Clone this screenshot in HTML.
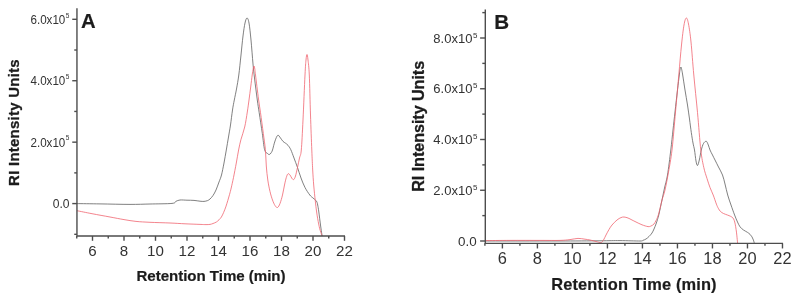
<!DOCTYPE html>
<html><head><meta charset="utf-8"><title>Chromatograms</title>
<style>html,body{margin:0;padding:0;background:#fff;}svg{display:block}</style>
</head><body>
<svg width="800" height="302" viewBox="0 0 800 302" font-family="'Liberation Sans', sans-serif">
<rect width="800" height="302" fill="#ffffff"/>
<g fill="none" stroke-width="0.78" stroke-linejoin="round">
<path d="M77.00,203.60C80.83,203.65 91.17,203.77 100.00,203.90C108.83,204.03 121.67,204.38 130.00,204.40C138.33,204.42 143.00,204.17 150.00,204.00C157.00,203.83 167.67,203.85 172.00,203.40C176.33,202.95 174.67,201.87 176.00,201.30C177.33,200.73 178.17,200.18 180.00,200.00C181.83,199.82 184.67,200.13 187.00,200.20C189.33,200.27 191.83,200.23 194.00,200.40C196.17,200.57 198.33,201.03 200.00,201.20C201.67,201.37 202.75,201.50 204.00,201.40C205.25,201.30 206.50,201.00 207.50,200.60C208.50,200.20 209.08,199.85 210.00,199.00C210.92,198.15 212.00,197.00 213.00,195.50C214.00,194.00 215.00,192.25 216.00,190.00C217.00,187.75 218.08,184.50 219.00,182.00C219.92,179.50 220.67,178.17 221.50,175.00C222.33,171.83 223.20,167.17 224.00,163.00C224.80,158.83 225.55,154.33 226.30,150.00C227.05,145.67 227.80,141.17 228.50,137.00C229.20,132.83 229.83,129.50 230.50,125.00C231.17,120.50 231.87,114.17 232.50,110.00C233.13,105.83 233.63,103.50 234.30,100.00C234.97,96.50 235.75,93.17 236.50,89.00C237.25,84.83 238.05,80.67 238.80,75.00C239.55,69.33 240.30,61.50 241.00,55.00C241.70,48.50 242.33,41.33 243.00,36.00C243.67,30.67 244.33,26.00 245.00,23.00C245.67,20.00 246.33,18.00 247.00,18.00C247.67,18.00 248.33,19.33 249.00,23.00C249.67,26.67 250.33,33.17 251.00,40.00C251.67,46.83 252.42,57.67 253.00,64.00C253.58,70.33 253.78,72.00 254.50,78.00C255.22,84.00 256.52,94.22 257.30,100.00C258.08,105.78 258.37,107.13 259.20,112.70C260.03,118.27 261.40,127.23 262.30,133.40C263.20,139.57 263.73,146.35 264.60,149.70C265.47,153.05 266.72,152.70 267.50,153.50C268.28,154.30 268.72,154.58 269.30,154.50C269.88,154.42 270.47,153.75 271.00,153.00C271.53,152.25 271.83,152.00 272.50,150.00C273.17,148.00 274.12,143.45 275.00,141.00C275.88,138.55 276.88,135.80 277.80,135.30C278.72,134.80 279.63,136.98 280.50,138.00C281.37,139.02 282.17,140.53 283.00,141.40C283.83,142.27 284.67,142.55 285.50,143.20C286.33,143.85 287.12,144.22 288.00,145.30C288.88,146.38 289.80,147.58 290.80,149.70C291.80,151.82 292.88,155.03 294.00,158.00C295.12,160.97 296.33,164.17 297.50,167.50C298.67,170.83 299.75,174.67 301.00,178.00C302.25,181.33 303.53,184.67 305.00,187.50C306.47,190.33 308.47,193.25 309.80,195.00C311.13,196.75 312.02,197.12 313.00,198.00C313.98,198.88 315.05,199.63 315.70,200.30C316.35,200.97 316.57,201.22 316.90,202.00C317.23,202.78 317.40,203.50 317.70,205.00C318.00,206.50 318.37,208.70 318.70,211.00C319.03,213.30 319.40,216.47 319.70,218.80C320.00,221.13 320.23,223.02 320.50,225.00C320.77,226.98 321.03,228.87 321.30,230.70C321.57,232.53 321.97,235.12 322.10,236.00" stroke="#5c5c5c"/>
<path d="M77.00,210.70C79.50,211.20 86.50,212.65 92.00,213.70C97.50,214.75 104.67,216.02 110.00,217.00C115.33,217.98 119.67,218.87 124.00,219.60C128.33,220.33 131.67,220.95 136.00,221.40C140.33,221.85 144.33,222.03 150.00,222.30C155.67,222.57 164.17,222.75 170.00,223.00C175.83,223.25 180.00,223.57 185.00,223.80C190.00,224.03 196.50,224.27 200.00,224.40C203.50,224.53 204.33,224.60 206.00,224.60C207.67,224.60 208.83,224.58 210.00,224.40C211.17,224.22 211.93,223.90 213.00,223.50C214.07,223.10 215.40,222.62 216.40,222.00C217.40,221.38 218.17,220.63 219.00,219.80C219.83,218.97 220.63,218.22 221.40,217.00C222.17,215.78 222.87,214.18 223.60,212.50C224.33,210.82 225.10,208.90 225.80,206.90C226.50,204.90 227.17,202.60 227.80,200.50C228.43,198.40 229.03,196.38 229.60,194.30C230.17,192.22 230.55,190.80 231.20,188.00C231.85,185.20 232.65,181.67 233.50,177.50C234.35,173.33 235.45,167.58 236.30,163.00C237.15,158.42 237.83,153.88 238.60,150.00C239.37,146.12 239.88,143.53 240.90,139.70C241.92,135.87 243.63,131.62 244.70,127.00C245.77,122.38 246.58,116.50 247.30,112.00C248.02,107.50 248.43,104.17 249.00,100.00C249.57,95.83 250.17,91.17 250.70,87.00C251.23,82.83 251.78,78.00 252.20,75.00C252.62,72.00 252.90,70.50 253.20,69.00C253.50,67.50 253.73,66.00 254.00,66.00C254.27,66.00 254.55,67.50 254.80,69.00C255.05,70.50 254.88,70.00 255.50,75.00C256.12,80.00 257.67,92.72 258.50,99.00C259.33,105.28 259.70,106.97 260.50,112.70C261.30,118.43 262.48,127.23 263.30,133.40C264.12,139.57 264.90,144.27 265.40,149.70C265.90,155.13 265.90,160.95 266.30,166.00C266.70,171.05 267.18,175.75 267.80,180.00C268.42,184.25 269.22,188.17 270.00,191.50C270.78,194.83 271.67,197.67 272.50,200.00C273.33,202.33 274.17,204.25 275.00,205.50C275.83,206.75 276.67,207.83 277.50,207.50C278.33,207.17 279.17,205.58 280.00,203.50C280.83,201.42 281.75,198.08 282.50,195.00C283.25,191.92 283.87,187.92 284.50,185.00C285.13,182.08 285.72,179.37 286.30,177.50C286.88,175.63 287.38,174.22 288.00,173.80C288.62,173.38 289.33,174.22 290.00,175.00C290.67,175.78 291.37,177.75 292.00,178.50C292.63,179.25 293.22,179.92 293.80,179.50C294.38,179.08 294.88,178.00 295.50,176.00C296.12,174.00 296.83,170.50 297.50,167.50C298.17,164.50 298.87,160.92 299.50,158.00C300.13,155.08 300.72,156.33 301.30,150.00C301.88,143.67 302.38,132.50 303.00,120.00C303.62,107.50 304.50,85.00 305.00,75.00C305.50,65.00 305.67,63.42 306.00,60.00C306.33,56.58 306.67,54.50 307.00,54.50C307.33,54.50 307.62,56.58 308.00,60.00C308.38,63.42 308.88,65.83 309.30,75.00C309.72,84.17 310.08,102.50 310.50,115.00C310.92,127.50 311.43,140.83 311.80,150.00C312.17,159.17 312.38,164.17 312.70,170.00C313.02,175.83 313.27,179.83 313.70,185.00C314.13,190.17 314.83,196.67 315.30,201.00C315.77,205.33 316.10,208.03 316.50,211.00C316.90,213.97 317.33,216.63 317.70,218.80C318.07,220.97 318.37,222.35 318.70,224.00C319.03,225.65 319.33,227.28 319.70,228.70C320.07,230.12 320.50,231.28 320.90,232.50C321.30,233.72 321.90,235.42 322.10,236.00" stroke="#f0606c"/>
<path d="M485.00,241.00C490.83,241.00 507.50,241.00 520.00,241.00C532.50,241.00 546.67,241.03 560.00,241.00C573.33,240.97 590.00,240.87 600.00,240.80C610.00,240.73 613.33,240.57 620.00,240.60C626.67,240.63 636.17,241.05 640.00,241.00C643.83,240.95 642.00,240.63 643.00,240.30C644.00,239.97 645.00,239.63 646.00,239.00C647.00,238.37 648.00,237.50 649.00,236.50C650.00,235.50 651.17,234.25 652.00,233.00C652.83,231.75 653.33,230.50 654.00,229.00C654.67,227.50 655.42,225.58 656.00,224.00C656.58,222.42 657.00,221.17 657.50,219.50C658.00,217.83 658.25,217.25 659.00,214.00C659.75,210.75 661.08,204.33 662.00,200.00C662.92,195.67 663.58,192.17 664.50,188.00C665.42,183.83 666.45,181.33 667.50,175.00C668.55,168.67 669.88,157.50 670.80,150.00C671.72,142.50 672.30,136.33 673.00,130.00C673.70,123.67 674.25,118.67 675.00,112.00C675.75,105.33 676.78,96.17 677.50,90.00C678.22,83.83 678.87,78.42 679.30,75.00C679.73,71.58 679.83,70.83 680.10,69.50C680.37,68.17 680.63,67.00 680.90,67.00C681.17,67.00 681.40,68.17 681.70,69.50C682.00,70.83 682.15,71.58 682.70,75.00C683.25,78.42 684.20,85.00 685.00,90.00C685.80,95.00 686.75,100.17 687.50,105.00C688.25,109.83 688.87,114.42 689.50,119.00C690.13,123.58 690.72,128.50 691.30,132.50C691.88,136.50 692.47,140.08 693.00,143.00C693.53,145.92 694.00,147.00 694.50,150.00C695.00,153.00 695.50,158.42 696.00,161.00C696.50,163.58 696.95,165.67 697.50,165.50C698.05,165.33 698.67,162.58 699.30,160.00C699.93,157.42 700.60,152.75 701.30,150.00C702.00,147.25 702.67,144.95 703.50,143.50C704.33,142.05 705.50,141.05 706.30,141.30C707.10,141.55 707.68,143.55 708.30,145.00C708.92,146.45 709.30,148.33 710.00,150.00C710.70,151.67 711.67,153.33 712.50,155.00C713.33,156.67 714.00,158.00 715.00,160.00C716.00,162.00 717.25,164.50 718.50,167.00C719.75,169.50 721.42,172.17 722.50,175.00C723.58,177.83 724.13,180.67 725.00,184.00C725.87,187.33 726.70,191.50 727.70,195.00C728.70,198.50 729.85,201.67 731.00,205.00C732.15,208.33 733.52,212.17 734.60,215.00C735.68,217.83 736.58,220.02 737.50,222.00C738.42,223.98 739.10,225.57 740.10,226.90C741.10,228.23 742.28,229.10 743.50,230.00C744.72,230.90 746.32,231.58 747.40,232.30C748.48,233.02 749.23,233.53 750.00,234.30C750.77,235.07 751.43,235.95 752.00,236.90C752.57,237.85 753.00,238.92 753.40,240.00C753.80,241.08 754.23,242.83 754.40,243.40" stroke="#5c5c5c"/>
<path d="M485.00,240.60C489.17,240.57 500.83,240.43 510.00,240.40C519.17,240.37 531.67,240.40 540.00,240.40C548.33,240.40 555.00,240.53 560.00,240.40C565.00,240.27 567.00,239.93 570.00,239.60C573.00,239.27 575.50,238.47 578.00,238.40C580.50,238.33 583.00,238.93 585.00,239.20C587.00,239.47 588.17,239.62 590.00,240.00C591.83,240.38 594.17,241.07 596.00,241.50C597.83,241.93 599.75,242.85 601.00,242.60C602.25,242.35 602.67,241.27 603.50,240.00C604.33,238.73 605.08,236.75 606.00,235.00C606.92,233.25 608.00,231.17 609.00,229.50C610.00,227.83 610.67,226.58 612.00,225.00C613.33,223.42 615.50,221.23 617.00,220.00C618.50,218.77 619.83,218.10 621.00,217.60C622.17,217.10 622.83,216.93 624.00,217.00C625.17,217.07 626.67,217.50 628.00,218.00C629.33,218.50 630.67,219.33 632.00,220.00C633.33,220.67 634.33,221.20 636.00,222.00C637.67,222.80 640.00,224.03 642.00,224.80C644.00,225.57 646.50,226.40 648.00,226.60C649.50,226.80 650.00,226.43 651.00,226.00C652.00,225.57 653.17,224.92 654.00,224.00C654.83,223.08 655.33,221.83 656.00,220.50C656.67,219.17 657.33,218.00 658.00,216.00C658.67,214.00 659.33,211.17 660.00,208.50C660.67,205.83 661.17,203.08 662.00,200.00C662.83,196.92 663.92,194.67 665.00,190.00C666.08,185.33 667.33,178.67 668.50,172.00C669.67,165.33 670.83,160.00 672.00,150.00C673.17,140.00 674.37,124.50 675.50,112.00C676.63,99.50 677.80,86.17 678.80,75.00C679.80,63.83 680.63,53.33 681.50,45.00C682.37,36.67 683.20,29.50 684.00,25.00C684.80,20.50 685.55,18.17 686.30,18.00C687.05,17.83 687.72,20.00 688.50,24.00C689.28,28.00 690.12,33.50 691.00,42.00C691.88,50.50 692.72,63.25 693.80,75.00C694.88,86.75 696.33,100.00 697.50,112.50C698.67,125.00 699.75,140.83 700.80,150.00C701.85,159.17 702.77,162.75 703.80,167.50C704.83,172.25 705.97,175.17 707.00,178.50C708.03,181.83 708.97,184.75 710.00,187.50C711.03,190.25 712.13,192.23 713.20,195.00C714.27,197.77 715.55,201.88 716.40,204.10C717.25,206.32 717.63,207.08 718.30,208.30C718.97,209.52 719.53,210.53 720.40,211.40C721.27,212.27 722.33,212.90 723.50,213.50C724.67,214.10 726.23,214.53 727.40,215.00C728.57,215.47 729.60,215.83 730.50,216.30C731.40,216.77 732.18,217.13 732.80,217.80C733.42,218.47 733.80,219.25 734.20,220.30C734.60,221.35 734.88,222.57 735.20,224.10C735.52,225.63 735.83,227.67 736.10,229.50C736.37,231.33 736.55,232.78 736.80,235.10C737.05,237.42 737.47,242.02 737.60,243.40" stroke="#f0606c"/>
</g>
<g stroke="#4d4d4d" stroke-width="1.4" fill="none">
<path d="M76.95,8.2V236H345"/>
<line x1="72.25" y1="19.30" x2="76.95" y2="19.30"/><line x1="72.25" y1="80.73" x2="76.95" y2="80.73"/><line x1="72.25" y1="142.16" x2="76.95" y2="142.16"/><line x1="72.25" y1="203.59" x2="76.95" y2="203.59"/><line x1="74.25" y1="50.02" x2="76.95" y2="50.02"/><line x1="74.25" y1="111.44" x2="76.95" y2="111.44"/><line x1="74.25" y1="172.88" x2="76.95" y2="172.88"/><line x1="74.25" y1="234.31" x2="76.95" y2="234.31"/><line x1="92.5" y1="236.0" x2="92.5" y2="240.8"/><line x1="124.0" y1="236.0" x2="124.0" y2="240.8"/><line x1="155.5" y1="236.0" x2="155.5" y2="240.8"/><line x1="187.0" y1="236.0" x2="187.0" y2="240.8"/><line x1="218.5" y1="236.0" x2="218.5" y2="240.8"/><line x1="250.0" y1="236.0" x2="250.0" y2="240.8"/><line x1="281.5" y1="236.0" x2="281.5" y2="240.8"/><line x1="313.0" y1="236.0" x2="313.0" y2="240.8"/><line x1="344.5" y1="236.0" x2="344.5" y2="240.8"/><line x1="76.75" y1="236.0" x2="76.75" y2="238.6"/><line x1="108.25" y1="236.0" x2="108.25" y2="238.6"/><line x1="139.75" y1="236.0" x2="139.75" y2="238.6"/><line x1="171.25" y1="236.0" x2="171.25" y2="238.6"/><line x1="202.75" y1="236.0" x2="202.75" y2="238.6"/><line x1="234.25" y1="236.0" x2="234.25" y2="238.6"/><line x1="265.75" y1="236.0" x2="265.75" y2="238.6"/><line x1="297.25" y1="236.0" x2="297.25" y2="238.6"/><line x1="328.75" y1="236.0" x2="328.75" y2="238.6"/>
<path d="M485.3,9.4V243.35H783"/>
<line x1="480.1" y1="38.00" x2="485.3" y2="38.00"/><line x1="480.1" y1="88.75" x2="485.3" y2="88.75"/><line x1="480.1" y1="139.50" x2="485.3" y2="139.50"/><line x1="480.1" y1="190.25" x2="485.3" y2="190.25"/><line x1="480.1" y1="241.00" x2="485.3" y2="241.00"/><line x1="482.3" y1="12.62" x2="485.3" y2="12.62"/><line x1="482.3" y1="63.38" x2="485.3" y2="63.38"/><line x1="482.3" y1="114.12" x2="485.3" y2="114.12"/><line x1="482.3" y1="164.88" x2="485.3" y2="164.88"/><line x1="482.3" y1="215.62" x2="485.3" y2="215.62"/><line x1="502.40" y1="243.35" x2="502.40" y2="248.45"/><line x1="537.41" y1="243.35" x2="537.41" y2="248.45"/><line x1="572.42" y1="243.35" x2="572.42" y2="248.45"/><line x1="607.43" y1="243.35" x2="607.43" y2="248.45"/><line x1="642.44" y1="243.35" x2="642.44" y2="248.45"/><line x1="677.45" y1="243.35" x2="677.45" y2="248.45"/><line x1="712.46" y1="243.35" x2="712.46" y2="248.45"/><line x1="747.47" y1="243.35" x2="747.47" y2="248.45"/><line x1="782.48" y1="243.35" x2="782.48" y2="248.45"/><line x1="484.90" y1="243.35" x2="484.90" y2="245.85"/><line x1="519.91" y1="243.35" x2="519.91" y2="245.85"/><line x1="554.92" y1="243.35" x2="554.92" y2="245.85"/><line x1="589.93" y1="243.35" x2="589.93" y2="245.85"/><line x1="624.94" y1="243.35" x2="624.94" y2="245.85"/><line x1="659.95" y1="243.35" x2="659.95" y2="245.85"/><line x1="694.96" y1="243.35" x2="694.96" y2="245.85"/><line x1="729.97" y1="243.35" x2="729.97" y2="245.85"/><line x1="764.98" y1="243.35" x2="764.98" y2="245.85"/>
</g>
<g fill="#333333">
<text x="65.35" y="23.75" text-anchor="end" font-size="12.1" textLength="34.9" lengthAdjust="spacingAndGlyphs">6.0x10</text><text x="65.85" y="17.58" font-size="6.5">5</text>
<text x="65.35" y="85.18" text-anchor="end" font-size="12.1" textLength="34.9" lengthAdjust="spacingAndGlyphs">4.0x10</text><text x="65.85" y="79.01" font-size="6.5">5</text>
<text x="65.35" y="146.61" text-anchor="end" font-size="12.1" textLength="34.9" lengthAdjust="spacingAndGlyphs">2.0x10</text><text x="65.85" y="140.44" font-size="6.5">5</text>
<text x="69.5" y="207.89" text-anchor="end" font-size="12.1">0.0</text>
<text x="472.45" y="42.50" text-anchor="end" font-size="13.6" textLength="39.1" lengthAdjust="spacingAndGlyphs">8.0x10</text><text x="472.95" y="37.60" font-size="8">5</text>
<text x="472.45" y="93.25" text-anchor="end" font-size="13.6" textLength="39.1" lengthAdjust="spacingAndGlyphs">6.0x10</text><text x="472.95" y="88.35" font-size="8">5</text>
<text x="472.45" y="144.00" text-anchor="end" font-size="13.6" textLength="39.1" lengthAdjust="spacingAndGlyphs">4.0x10</text><text x="472.95" y="139.10" font-size="8">5</text>
<text x="472.45" y="194.75" text-anchor="end" font-size="13.6" textLength="39.1" lengthAdjust="spacingAndGlyphs">2.0x10</text><text x="472.95" y="189.85" font-size="8">5</text>
<text x="476.6" y="245.60" text-anchor="end" font-size="13.4">0.0</text>
<g font-size="15.1" text-anchor="middle">
<text x="92.5" y="255.9">6</text><text x="124.0" y="255.9">8</text><text x="155.5" y="255.9">10</text><text x="187.0" y="255.9">12</text><text x="218.5" y="255.9">14</text><text x="250.0" y="255.9">16</text><text x="281.5" y="255.9">18</text><text x="313.0" y="255.9">20</text><text x="344.5" y="255.9">22</text></g>
<g font-size="16.4" text-anchor="middle">
<text x="502.40" y="264.3">6</text><text x="537.41" y="264.3">8</text><text x="572.42" y="264.3">10</text><text x="607.43" y="264.3">12</text><text x="642.44" y="264.3">14</text><text x="677.45" y="264.3">16</text><text x="712.46" y="264.3">18</text><text x="747.47" y="264.3">20</text><text x="782.48" y="264.3">22</text></g>
</g>
<g fill="#1c1c1c" font-weight="bold" stroke="#1c1c1c" stroke-width="0.2" stroke-linejoin="round">
<text x="81.0" y="27.6" font-size="20.3">A</text>
<text x="494.3" y="28.5" font-size="20.6">B</text>
<text x="136.5" y="280.9" font-size="15.1" textLength="149" lengthAdjust="spacing">Retention Time (min)</text>
<text x="551.3" y="290.4" font-size="16.4" textLength="165.2" lengthAdjust="spacing">Retention Time (min)</text>
<text transform="translate(19.35,185.9) rotate(-90)" stroke-width="0.3" font-size="14.9" textLength="126.5" lengthAdjust="spacing">RI Intensity Units</text>
<text transform="translate(424.1,191.8) rotate(-90)" stroke-width="0.3" font-size="16.2" textLength="131" lengthAdjust="spacing">RI Intensity Units</text>
</g>
</svg>
</body></html>
